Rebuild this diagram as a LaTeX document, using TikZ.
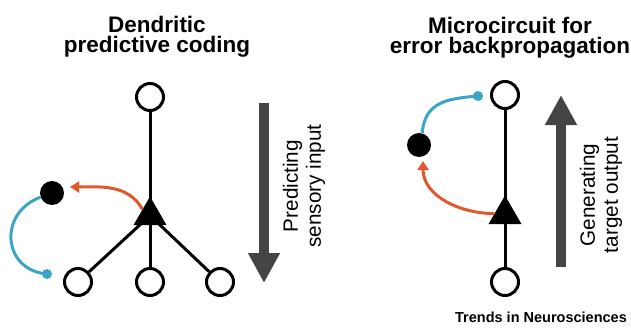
\documentclass[tikz,border=0pt]{standalone}
\usepackage{fontspec}
\setmainfont{Liberation Sans}
\usetikzlibrary{arrows.meta, shapes.geometric}
\definecolor{myBlue}{HTML}{3AA5C5}
\definecolor{myOrange}{HTML}{E2572B}
\definecolor{myGray}{HTML}{454545}

\begin{document}
\begin{tikzpicture}[
x=1pt, y=1pt,
cell/.style={circle, draw=black, fill=white, line width=3pt, minimum size=27pt, inner sep=0pt},
soma/.style={regular polygon, regular polygon sides=3, fill=black, minimum size=38pt, inner sep=0pt},
inter/.style={circle, fill=black, minimum size=24pt, inner sep=0pt},
synapse/.style={circle, fill=myBlue, minimum size=10pt, inner sep=0pt},
wire/.style={line width=3pt, black},
inhib/.style={line width=3pt, myBlue},
excit/.style={line width=3pt, myOrange, -{Triangle[length=9pt, width=11pt]}},
flow/.style={line width=10pt, myGray, -{Triangle[length=30pt, width=30pt]}},
heading/.style={font=\bfseries\fontsize{22.5}{20}\selectfont, align=center, anchor=north, inner sep=0pt},
sidetext/.style={font=\fontsize{20.7}{23}\selectfont, align=center, rotate=90, inner sep=0pt}
]
\useasboundingbox (0,0) rectangle (631,330);

% dendritic predictive coding
\node[soma] (Lsoma) at (150,114.5) {};
\node[cell] (Ltop) at (150,233) {};
\node[cell] (Lmid) at (150,48) {};
\node[cell] (Lleft) at (78,48) {};
\node[cell] (Lright) at (220,48) {};
\draw[wire] (Ltop) -- (Lmid);
\draw[wire] (Lsoma.center) -- (Lleft);
\draw[wire] (Lsoma.center) -- (Lright);

\node[inter] (Ldot) at (52,137) {};
\node[synapse] (Lsyn) at (47,56) {};
\coordinate (Ltip) at (70,143);
\draw[inhib] (Ldot.200) to[out=200, in=175, looseness=1.5] (Lsyn.center);
\draw[excit] (Lsoma.140) to[out=120, in=0] (Ltip);

\coordinate (LflowA) at (264,227);
\coordinate (LflowB) at (264,47);
\draw[flow] (LflowA) -- (LflowB);
\node[sidetext] (Ltext) at (304,144) {Predicting\\sensory input};

\node[heading] (Ltitle) at (157,314) {Dendritic\\predictive coding};

% microcircuit for error backpropagation
\node[soma] (Rsoma) at (505,115.5) {};
\node[cell] (Rtop) at (505,235) {};
\node[cell] (Rbot) at (505,48) {};
\draw[wire] (Rtop) -- (Rbot);

\node[inter] (Rdot) at (419,185) {};
\node[synapse] (Rsyn) at (478,234) {};
\coordinate (Rtip) at (423,169);
\draw[inhib] (Rdot.75) to[out=85, in=185, looseness=1.2] (Rsyn.center);
\draw[excit] (Rsoma.175) to[out=180, in=-90] (Rtip);

\coordinate (RflowA) at (561,63);
\coordinate (RflowB) at (561,235);
\draw[flow] (RflowA) -- (RflowB);
\node[sidetext] (Rtext) at (601,135) {Generating\\target output};

\node[heading] (Rtitle) at (510,313) {Microcircuit for\\error backpropagation};

\node[font=\bfseries\fontsize{14.5}{16}\selectfont, anchor=north, inner sep=0pt] (journal) at (541,18) {Trends in Neurosciences};
\end{tikzpicture}
\end{document}
